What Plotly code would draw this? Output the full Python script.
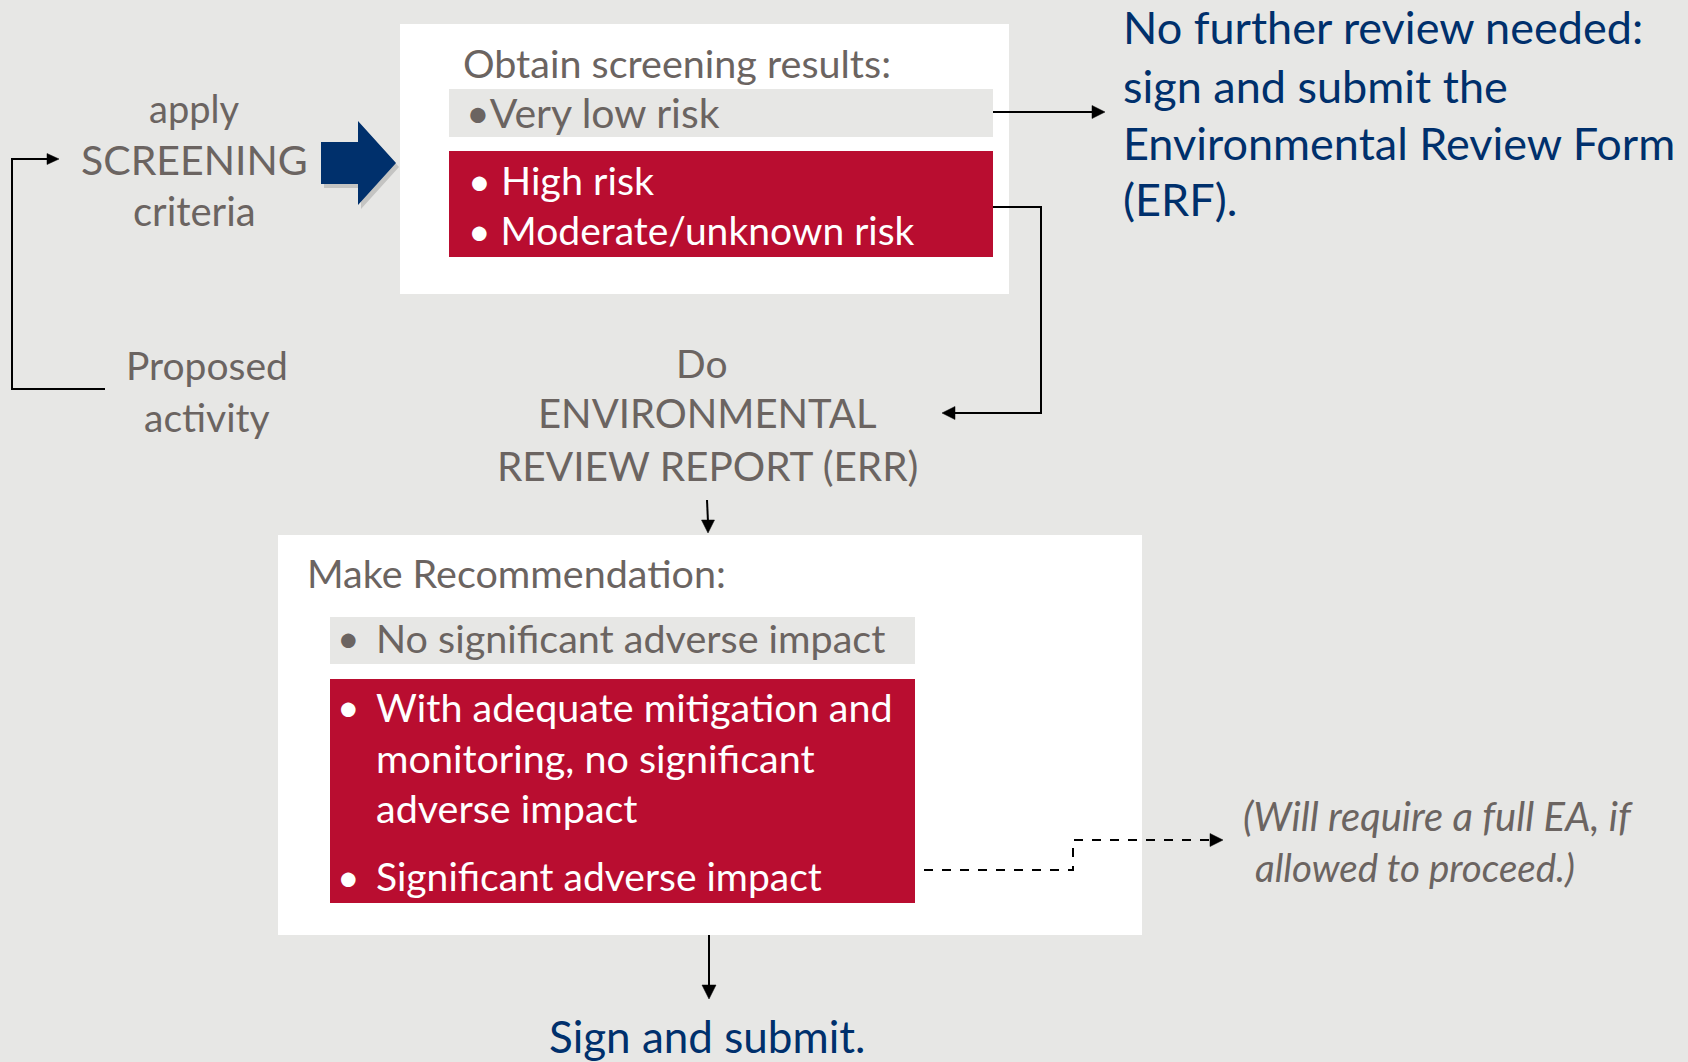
import plotly.graph_objects as go

W, H = 1688, 1062
BG = "#e7e7e5"
GRAY_TXT = "#6b6461"
BLUE = "#00306c"
RED = "#b90d30"
FONT = "Lato"

# ---- text content ----
screen_label = ["apply", "SCREENING", "criteria"]
proposed_label = ["Proposed", "activity"]
results_title = "Obtain screening results:"
low_risk = "Very low risk"
high_risks = ["High risk", "Moderate/unknown risk"]
erf_lines = ["No further review needed:", "sign and submit the",
             "Environmental Review Form", "(ERF)."]
err_lines = ["Do", "ENVIRONMENTAL", "REVIEW REPORT (ERR)"]
rec_title = "Make Recommendation:"
rec_low = "No significant adverse impact"
rec_mid = ["With adequate mitigation and", "monitoring, no significant", "adverse impact"]
rec_high = "Significant adverse impact"
ea_note = ["(Will require a full EA, if", "allowed to proceed.)"]
final = "Sign and submit."

fig = go.Figure()
shapes = []
ann = []

def rect(x0, y0, x1, y1, color):
    shapes.append(dict(type="rect", x0=x0, y0=y0, x1=x1, y1=y1,
                       fillcolor=color, line=dict(width=0), layer="below"))

def path(d, color="black", width=2, dash="solid", fill=None):
    s = dict(type="path", path=d, line=dict(color=color, width=width, dash=dash))
    if fill:
        s["fillcolor"] = fill
    shapes.append(s)

def tri(tip, direction, size=13, half=6.5):
    x, y = tip
    if direction == "right":
        d = f"M{x},{y} L{x-size},{y-half} L{x-size},{y+half} Z"
    elif direction == "left":
        d = f"M{x},{y} L{x+size},{y-half} L{x+size},{y+half} Z"
    else:  # down
        d = f"M{x},{y} L{x-half},{y-size} L{x+half},{y-size} Z"
    path(d, color="black", width=0.5, fill="black")

def text(x, y, s, size, color=GRAY_TXT, xanchor="left", italic=False):
    ann.append(dict(x=x, y=y, text=s, showarrow=False, xanchor=xanchor, yanchor="middle",
                    font=dict(family=FONT, size=size, color=color,
                              style="italic" if italic else "normal")))

# boxes
rect(400, 24, 1009, 294, "white")
rect(449, 89, 993, 137, BG)
rect(449, 151, 993, 257, RED)
rect(278, 535, 1142, 935, "white")
rect(330, 617, 915, 664, BG)
rect(330, 679, 915, 903, RED)

# big blue arrow with soft shadow
path("M324,146 L361,146 L361,125 L399,167 L361,209 L361,188 L324,188 Z",
     color="rgba(0,0,0,0)", width=0, fill="rgba(90,90,90,0.25)")
path("M321,142 L358,142 L358,121 L396,163 L358,205 L358,184 L321,184 Z",
     color=BLUE, width=0, fill=BLUE)

# connectors
path("M105,389 L12,389 L12,159 L48,159")
tri((59, 159), "right", size=12, half=5.5)
path("M993,112 L1094,112")
tri((1105, 112), "right", size=13, half=6.5)
path("M993,207 L1041,207 L1041,413 L953,413")
tri((942, 413), "left", size=13, half=6.5)
path("M707,500 L708,522")
tri((708, 533), "down", size=13, half=6.5)
path("M709,935 L709,986")
tri((709, 999), "down", size=14, half=7)
path("M924,870 L1073,870 L1073,840 L1211,840", dash="dash")
tri((1223, 840), "right", size=13, half=6.5)

# texts
text(194, 108, screen_label[0], 38, xanchor="center")
text(194, 159, screen_label[1], 41, xanchor="center")
text(194, 211, screen_label[2], 40, xanchor="center")
text(207, 365, proposed_label[0], 39, xanchor="center")
text(207, 417, proposed_label[1], 39, xanchor="center")

text(461, 62, results_title, 39.5)
text(464, 112, "•" + low_risk, 41)
text(466, 179, "• " + high_risks[0], 39.5, color="white")
text(466, 230, "• " + high_risks[1], 39, color="white")

for s, y in zip(erf_lines, [27, 86, 143, 199]):
    text(1121, y, s, 45, color=BLUE)

text(702, 363, err_lines[0], 39, xanchor="center")
text(707, 413, err_lines[1], 40, xanchor="center")
text(707, 465, err_lines[2], 40.5, xanchor="center")

text(305, 572, rec_title, 39.5)
text(335, 637, "•", 39)
text(374, 637, rec_low, 39.5)
text(335, 706, "•", 39, color="white")
for s, y in zip(rec_mid, [706, 757, 807]):
    text(374, y, s, 39.5, color="white")
text(335, 876, "•", 39, color="white")
text(374, 876, rec_high, 39, color="white")

text(1241, 816, ea_note[0], 40, italic=True)
text(1253, 867, ea_note[1], 38.5, italic=True)

text(707, 1036, final, 44, color=BLUE, xanchor="center")

fig.update_layout(
    width=W, height=H, margin=dict(l=0, r=0, t=0, b=0),
    paper_bgcolor=BG, plot_bgcolor=BG,
    xaxis=dict(range=[0, W], visible=False, fixedrange=True),
    yaxis=dict(range=[H, 0], visible=False, fixedrange=True),
    shapes=shapes, annotations=ann, showlegend=False,
)
fig.write_html("out.html", config={"displayModeBar": False},
               post_script="document.body.style.margin='0';document.body.style.overflow='hidden';"
                           "document.body.style.background='" + BG + "';")
